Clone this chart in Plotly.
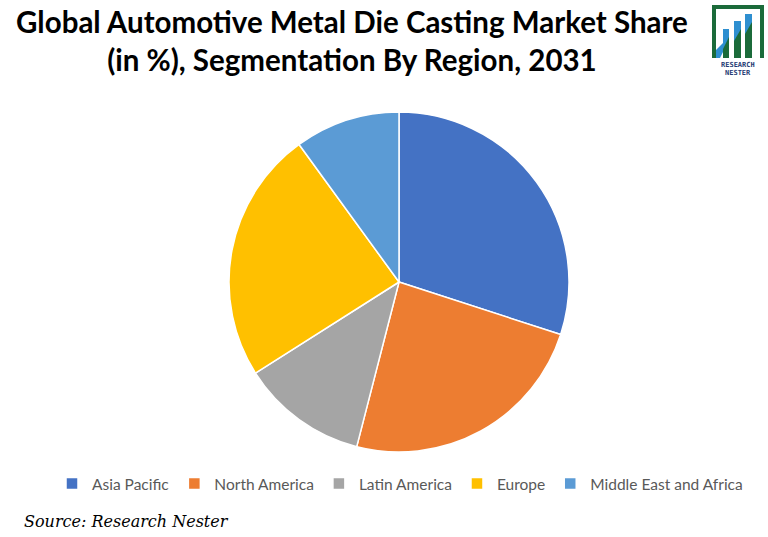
import plotly.graph_objects as go

regions = ["Asia Pacific", "North America", "Latin America", "Europe", "Middle East and Africa"]
shares = [30, 24, 12, 24, 10]
colors = ["#4472C4", "#ED7D31", "#A5A5A5", "#FFC000", "#5B9BD5"]

W, H = 768, 537
fig = go.Figure(go.Pie(
    labels=regions, values=shares, sort=False, direction="clockwise", rotation=0,
    marker=dict(colors=colors, line=dict(color="white", width=1.5)),
    textinfo="none", hoverinfo="label+percent",
    domain=dict(x=[(399-170)/W, (399+170)/W], y=[1-452/H, 1-112/H]),
))

def px(x): return x / W
def py(y): return 1 - y / H

green = "#1B6B3A"
blue = "#2E8FD0"
shapes = [
    dict(type="path", xref="paper", yref="paper",
         path=f"M {px(712)},{py(58)} L {px(712)},{py(5)} L {px(764)},{py(5)} L {px(764)},{py(58)} L {px(760)},{py(58)} L {px(760)},{py(9)} L {px(716)},{py(9)} L {px(716)},{py(58)} Z",
         fillcolor=green, line=dict(width=0)),
    dict(type="path", xref="paper", yref="paper",
         path=f"M {px(716)},{py(58)} L {px(716)},{py(50)} L {px(723)},{py(43)} L {px(723)},{py(52)} L {px(720)},{py(58)} Z",
         fillcolor=blue, line=dict(width=0)),
]
for x0, x1, top in [(723, 729, 29), (734, 741, 21), (745, 752, 14)]:
    shapes.append(dict(type="rect", xref="paper", yref="paper", x0=px(x0), x1=px(x1), y0=py(58), y1=py(top),
                       fillcolor=green, line=dict(width=0)))
    shapes.append(dict(type="path", xref="paper", yref="paper",
                       path=f"M {px(x0)},{py(top)} L {px(x1)},{py(top)} L {px(x1)},{py(top+8)} L {px(x0)},{py(top+20)} Z",
                       fillcolor=blue, line=dict(width=0)))

fig.update_layout(
    width=W, height=H, margin=dict(l=0, r=0, t=0, b=0),
    paper_bgcolor="white", plot_bgcolor="white",
    showlegend=True,
    legend=dict(orientation="h", x=px(400), xanchor="center", y=py(484), yanchor="middle",
                font=dict(family="Lato, sans-serif", size=15.5, color="#595959"),
                itemwidth=30, tracegroupgap=0),
    annotations=[
        dict(text="<b>Global Automotive Metal Die Casting Market Share<br>(in %), Segmentation By Region, 2031</b>",
             x=px(352), y=py(41), xref="paper", yref="paper", xanchor="center", yanchor="middle",
             showarrow=False, font=dict(family="Lato, sans-serif", size=29.5, color="black"),
             align="center"),
        dict(text="<i>Source: Research Nester</i>", x=px(22), y=py(521), xref="paper", yref="paper",
             xanchor="left", yanchor="middle", showarrow=False,
             font=dict(family="DejaVu Serif, serif", size=16, color="black")),
        dict(text="<b>RESEARCH</b>", x=px(738), y=py(65), xref="paper", yref="paper", showarrow=False,
             xanchor="center", yanchor="middle",
             font=dict(family="DejaVu Sans Mono, monospace", size=7, color="#1F3B73")),
        dict(text="<b>NESTER</b>", x=px(738), y=py(73), xref="paper", yref="paper", showarrow=False,
             xanchor="center", yanchor="middle",
             font=dict(family="DejaVu Sans Mono, monospace", size=7, color="#1F3B73")),
    ],
    shapes=shapes,
)

fig.write_html("out.html")
